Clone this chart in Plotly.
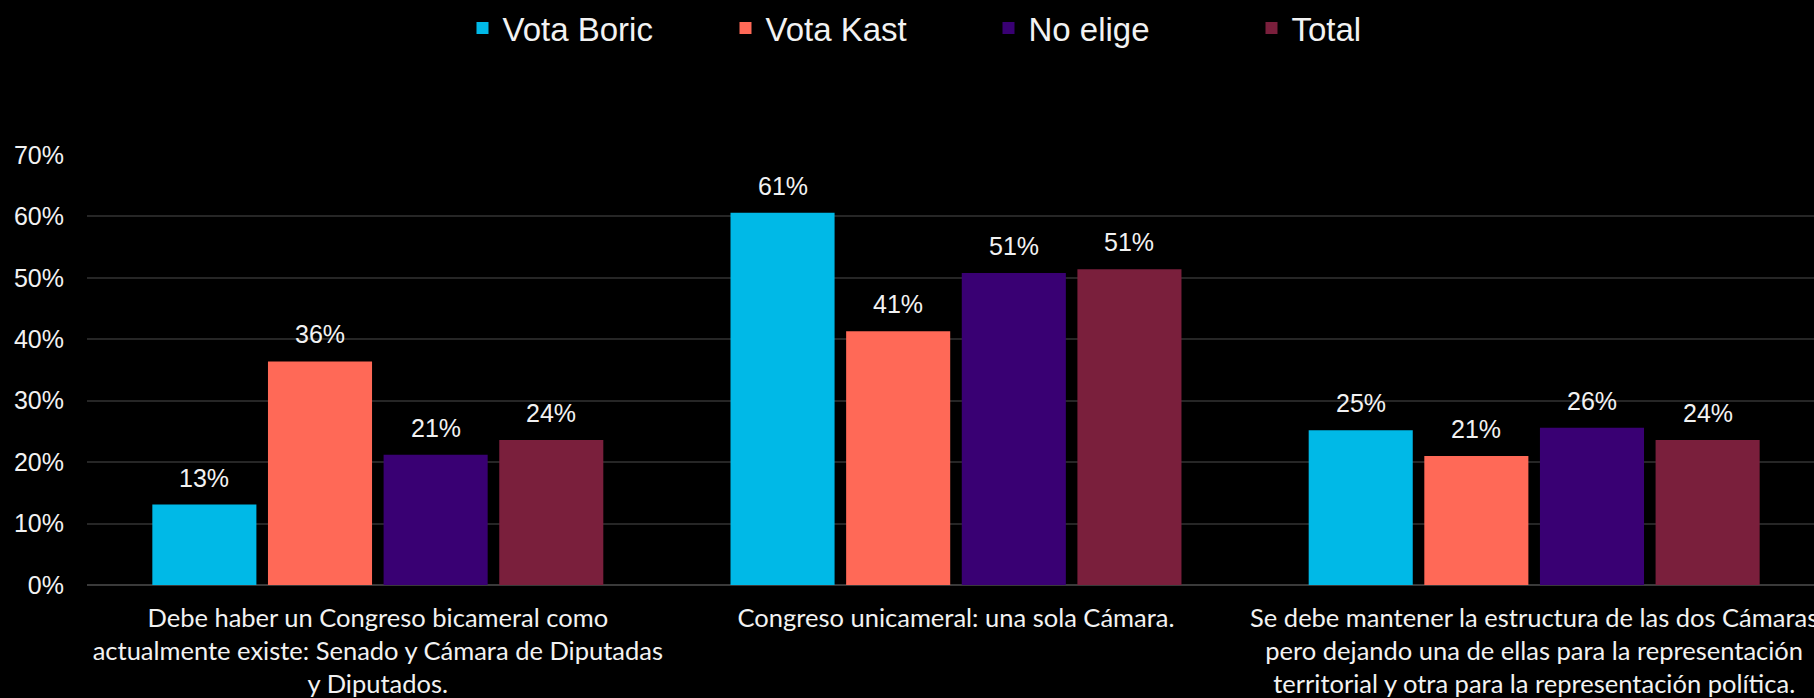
import plotly.graph_objects as go

categories = [
    "Debe haber un Congreso bicameral como<br>actualmente existe: Senado y Cámara de Diputadas<br>y Diputados.",
    "Congreso unicameral: una sola Cámara.",
    "Se debe mantener la estructura de las dos Cámaras<br>pero dejando una de ellas para la representación<br>territorial y otra para la representación política.",
]
series_names = ["Vota Boric", "Vota Kast", "No elige", "Total"]
vota_boric = [13.1, 60.6, 25.2]
vota_kast = [36.4, 41.3, 21.0]
no_elige = [21.2, 50.8, 25.6]
total = [23.6, 51.4, 23.6]
series_values = [vota_boric, vota_kast, no_elige, total]
colors = ["#00B9E7", "#FF6957", "#390073", "#7A1F3C"]
y_ticks = [0, 10, 20, 30, 40, 50, 60, 70]
y_ticktext = [f"{t}%" for t in y_ticks]

fig = go.Figure()
n = len(series_names)
bargap = 0.2
pitch = (1 - bargap) / n
annotations = []
for i, (name, vals, col) in enumerate(zip(series_names, series_values, colors)):
    fig.add_trace(go.Bar(
        name=name, x=list(range(len(categories))), y=vals,
        marker=dict(color=col, line=dict(width=0)),
        hoverinfo="skip",
    ))
    for j, v in enumerate(vals):
        annotations.append(dict(
            x=j + (i - (n - 1) / 2) * pitch, y=v, xref="x", yref="y",
            text=f"{v:.0f}%", showarrow=False, yanchor="bottom",
            yshift=11,
            font=dict(family="Liberation Sans, Arial, sans-serif", size=25, color="#F2F2F2"),
        ))

fig.update_layout(
    width=1814, height=698,
    paper_bgcolor="#000000", plot_bgcolor="#000000",
    margin=dict(l=87, r=0, t=153, b=113),
    barmode="group", bargap=bargap, bargroupgap=0.1,
    annotations=annotations,
    showlegend=True,
    legend=dict(
        orientation="h", x=0.522, xanchor="center", y=1.295, yanchor="middle",
        font=dict(family="Liberation Sans, Arial, sans-serif", size=33, color="#F2F2F2"),
        entrywidth=218, entrywidthmode="pixels",
        bgcolor="rgba(0,0,0,0)",
    ),
    xaxis=dict(
        tickmode="array", tickvals=list(range(len(categories))), ticktext=categories,
        range=[-0.503, 2.484], showgrid=False, zeroline=False, showline=False,
        tickfont=dict(family="Lato, sans-serif", size=25.5, color="#F2F2F2"),
        ticklabelstandoff=15, automargin=False, ticklabeloverflow="allow",
    ),
    yaxis=dict(
        range=[0, 70], tickvals=y_ticks, ticktext=y_ticktext,
        showgrid=True, gridcolor="#262626", gridwidth=2,
        zeroline=True, zerolinecolor="#3A3A3A", zerolinewidth=2,
        tickfont=dict(family="Liberation Sans, Arial, sans-serif", size=25, color="#F2F2F2"),
        ticklabelstandoff=22, automargin=False, fixedrange=True,
    ),
)

fig.write_html(
    "out.html",
    config={"displayModeBar": False},
    post_script="document.body.style.margin='0';document.body.style.background='#000';document.body.style.overflow='hidden';",
)
